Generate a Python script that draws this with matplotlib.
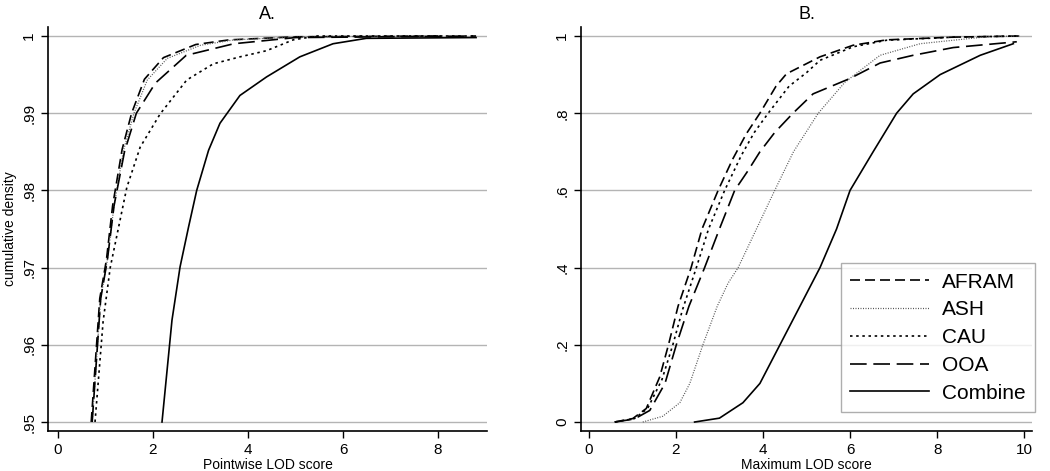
import matplotlib
matplotlib.use("Agg")
import matplotlib.pyplot as plt

plt.rcParams['font.family'] = ['Liberation Sans', 'DejaVu Sans']

# ---------------- Panel A: pointwise LOD score (upper tail of CDF) ----------------
a_afram_x = [0.70, 0.88, 1.02, 1.15, 1.35, 1.55, 1.82, 2.22, 2.90, 3.60, 5.00, 8.00]
a_afram_y = [0.950, 0.966, 0.971, 0.978, 0.9853, 0.990, 0.9944, 0.9972, 0.9989, 0.9995, 0.9999, 1.0]
a_ash_x = [0.72, 0.90, 1.04, 1.18, 1.38, 1.60, 1.88, 2.30, 3.00, 3.70, 5.10, 8.10]
a_ash_y = [0.950, 0.966, 0.971, 0.978, 0.9852, 0.990, 0.9943, 0.9971, 0.9988, 0.9995, 0.9999, 1.0]
a_ooa_x = [0.72, 0.90, 1.04, 1.18, 1.40, 1.65, 2.05, 2.70, 3.70, 5.00, 8.80]
a_ooa_y = [0.950, 0.966, 0.971, 0.978, 0.985, 0.990, 0.9939, 0.9975, 0.9990, 0.9998, 1.0]
a_cau_x = [0.78, 0.95, 1.10, 1.45, 1.73, 2.15, 2.71, 3.27, 3.83, 4.39, 4.95, 5.45, 8.80]
a_cau_y = [0.950, 0.963, 0.970, 0.9804, 0.9856, 0.9899, 0.9943, 0.9964, 0.9973, 0.9981, 0.9995, 1.0, 1.0]
a_comb_x = [2.19, 2.40, 2.57, 2.75, 2.92, 3.17, 3.41, 3.83, 4.39, 5.09, 5.79, 6.49, 8.80]
a_comb_y = [0.950, 0.9632, 0.9701, 0.9753, 0.980, 0.9852, 0.9887, 0.9923, 0.9947, 0.9973, 0.9990, 0.9997, 0.9998]

# ---------------- Panel B: maximum LOD score (full CDF) ----------------
b_afram_x = [0.59, 1.01, 1.32, 1.63, 1.83, 2.05, 2.35, 2.60, 2.97, 3.30, 3.62, 3.93, 4.30, 4.54, 5.31, 6.07, 6.84, 8.37, 9.91]
b_afram_y = [0.0, 0.009, 0.035, 0.117, 0.20, 0.30, 0.40, 0.50, 0.60, 0.68, 0.747, 0.80, 0.87, 0.902, 0.946, 0.976, 0.990, 0.997, 1.0]
b_cau_x = [0.60, 1.05, 1.35, 1.68, 1.93, 2.15, 2.47, 2.75, 3.12, 3.50, 3.80, 4.12, 4.60, 5.00, 5.31, 6.07, 6.84, 8.40, 9.90]
b_cau_y = [0.0, 0.009, 0.035, 0.110, 0.20, 0.29, 0.40, 0.50, 0.60, 0.69, 0.75, 0.80, 0.87, 0.905, 0.937, 0.972, 0.989, 0.997, 1.0]
b_ooa_x = [0.60, 1.05, 1.40, 1.75, 2.01, 2.30, 2.66, 3.00, 3.35, 3.65, 3.93, 4.27, 4.69, 5.15, 6.00, 6.69, 7.45, 8.37, 9.83]
b_ooa_y = [0.0, 0.008, 0.030, 0.10, 0.20, 0.30, 0.40, 0.50, 0.60, 0.65, 0.70, 0.75, 0.80, 0.85, 0.89, 0.93, 0.95, 0.97, 0.985]
b_ash_x = [1.24, 1.70, 2.09, 2.32, 2.62, 2.95, 3.20, 3.43, 3.85, 4.27, 4.70, 5.27, 5.88, 6.69, 7.61, 9.14, 9.90]
b_ash_y = [0.0, 0.015, 0.05, 0.10, 0.20, 0.30, 0.36, 0.40, 0.50, 0.60, 0.70, 0.80, 0.88, 0.95, 0.98, 0.998, 1.0]
b_comb_x = [2.43, 3.00, 3.54, 3.93, 4.39, 4.85, 5.31, 5.69, 6.00, 6.53, 7.07, 7.45, 8.07, 8.99, 9.75]
b_comb_y = [0.0, 0.01, 0.05, 0.10, 0.20, 0.30, 0.40, 0.50, 0.60, 0.70, 0.80, 0.85, 0.90, 0.95, 0.98]

series_names = ["AFRAM", "ASH", "CAU", "OOA", "Combine"]

styles = {
    "AFRAM": dict(linestyle=(0, (6, 3)), linewidth=1.2),
    "ASH": dict(linestyle=(0, (0.8, 1.2)), linewidth=0.9, color='#555555'),
    "CAU": dict(linestyle=(0, (1.5, 2.2)), linewidth=1.2),
    "OOA": dict(linestyle=(0, (10, 4)), linewidth=1.2),
    "Combine": dict(linestyle='-', linewidth=1.2),
}

fig = plt.figure(figsize=(10.5, 4.71), dpi=100)
axA = fig.add_axes([0.0457, 0.0849, 0.4181, 0.8578])
axB = fig.add_axes([0.5533, 0.0849, 0.4296, 0.8578])

dataA = {"AFRAM": (a_afram_x, a_afram_y), "ASH": (a_ash_x, a_ash_y), "CAU": (a_cau_x, a_cau_y),
         "OOA": (a_ooa_x, a_ooa_y), "Combine": (a_comb_x, a_comb_y)}
dataB = {"AFRAM": (b_afram_x, b_afram_y), "ASH": (b_ash_x, b_ash_y), "CAU": (b_cau_x, b_cau_y),
         "OOA": (b_ooa_x, b_ooa_y), "Combine": (b_comb_x, b_comb_y)}

for ax, data in ((axA, dataA), (axB, dataB)):
    for name in series_names:
        st = dict(color='black')
        st.update(styles[name])
        x, y = data[name]
        ax.plot(x, y, label=name, **st)
    for s in ('top', 'right'):
        ax.spines[s].set_visible(False)
    for s in ('left', 'bottom'):
        ax.spines[s].set_linewidth(1.2)
    ax.tick_params(axis='both', direction='out', length=5, width=1, labelsize=11)
    ax.yaxis.grid(True, color='#b4b4b4', linewidth=1.0)
    ax.set_axisbelow(True)

axA.set_xlim(-0.21, 9.03)
axA.set_ylim(0.94883, 1.00117)
axA.set_xticks([0, 2, 4, 6, 8])
axA.set_yticks([0.95, 0.96, 0.97, 0.98, 0.99, 1.0])
axA.set_yticklabels(['.95', '.96', '.97', '.98', '.99', '1'], rotation=90, va='center')
axA.set_title('A.', fontsize=13, pad=6)
axA.set_xlabel('Pointwise LOD score', fontsize=10, labelpad=1)
axA.set_ylabel('cumulative density', fontsize=10, labelpad=4)

axB.set_xlim(-0.18, 10.18)
axB.set_ylim(-0.0233, 1.0233)
axB.set_xticks([0, 2, 4, 6, 8, 10])
axB.set_yticks([0, 0.2, 0.4, 0.6, 0.8, 1.0])
axB.set_yticklabels(['0', '.2', '.4', '.6', '.8', '1'], rotation=90, va='center')
axB.set_title('B.', fontsize=13, pad=6)
axB.set_xlabel('Maximum LOD score', fontsize=10, labelpad=1)

leg = axB.legend(loc='lower right', bbox_to_anchor=(0.9857, 0.1253), bbox_transform=fig.transFigure,
                 borderaxespad=0, fontsize=15, frameon=True, fancybox=False, handlelength=3.8,
                 labelspacing=0.42, handletextpad=0.6, borderpad=0.45)
leg.get_frame().set_edgecolor('#9a9a9a')
leg.get_frame().set_linewidth(1.0)

fig.savefig('out.png', dpi=100)
